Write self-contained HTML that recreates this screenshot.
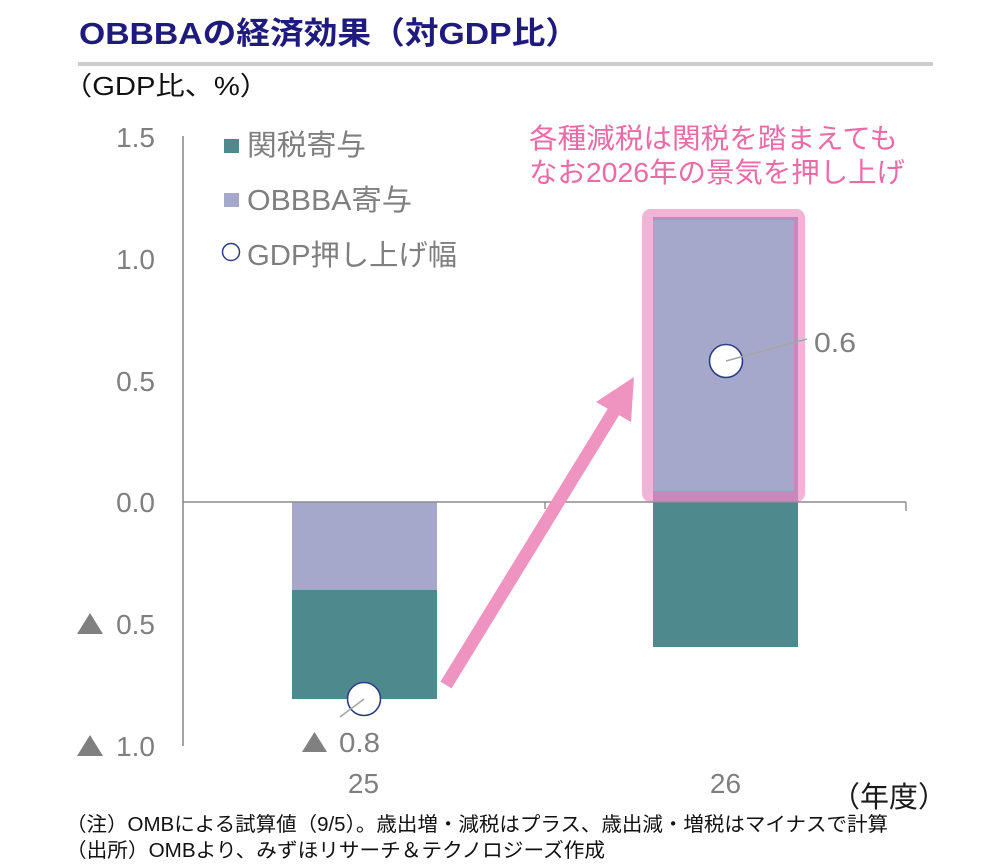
<!DOCTYPE html>
<html>
<head>
<meta charset="utf-8">
<style>
html,body{margin:0;padding:0;background:#fff;}
svg{display:block;}
text{font-family:"Liberation Sans","Noto Sans CJK JP",sans-serif;}
</style>
</head>
<body>
<svg width="1000" height="866" viewBox="0 0 1000 866" xmlns="http://www.w3.org/2000/svg">
  <rect x="0" y="0" width="1000" height="866" fill="#ffffff"/>

  <!-- Title -->
  <text x="79" y="44" font-size="31" font-weight="bold" fill="#1f1a7d" textLength="500" lengthAdjust="spacingAndGlyphs">OBBBAの経済効果（対GDP比）</text>
  <rect x="78" y="62" width="855" height="4" fill="#cdcdcd"/>

  <!-- Subtitle -->
  <text x="63" y="95" font-size="26" fill="#111" textLength="206" lengthAdjust="spacingAndGlyphs">（GDP比、%）</text>

  <!-- Y axis labels -->
  <g font-size="28" fill="#7f7f7f" text-anchor="end">
    <text x="155" y="147">1.5</text>
    <text x="155" y="269">1.0</text>
    <text x="155" y="391">0.5</text>
    <text x="155" y="512">0.0</text>
    <text x="155" y="634">0.5</text>
    <text x="155" y="756">1.0</text>
  </g>
  <polygon points="77,634 103,634 90,613" fill="#808080"/>
  <polygon points="77,756 103,756 90,735" fill="#808080"/>

  <!-- Bars -->
  <rect x="292" y="502" width="145" height="88" fill="#a5a8cb"/>
  <rect x="292" y="590" width="145" height="109" fill="#4e898e"/>
  <rect x="653" y="217" width="145" height="285" fill="#a5a8cb"/>
  <rect x="653" y="502" width="145" height="145" fill="#4e898e"/>

  <!-- Axes -->
  <line x1="183" y1="136" x2="183" y2="746" stroke="#8c8c8c" stroke-width="1.6"/>
  <line x1="183" y1="502" x2="906" y2="502" stroke="#8c8c8c" stroke-width="1.6"/>
  <line x1="545" y1="502" x2="545" y2="509" stroke="#8c8c8c" stroke-width="1.4"/>
  <line x1="906" y1="502" x2="906" y2="511" stroke="#8c8c8c" stroke-width="1.4"/>

  <!-- Highlight box -->
  <rect x="647.5" y="214.5" width="152" height="282" rx="3" ry="3" fill="none" stroke="rgba(229,105,173,0.5)" stroke-width="11"/>

  <!-- Arrow -->
  <line x1="446" y1="685" x2="614" y2="411" stroke="#ef93c0" stroke-width="13"/>
  <polygon points="634,377 596,402 631,422" fill="#ef93c0"/>

  <!-- GDP markers -->
  <circle cx="364" cy="699" r="16.5" fill="#ffffff" stroke="#2b3d84" stroke-width="1.6"/>
  <line x1="364" y1="699" x2="340" y2="717" stroke="#a6a6a6" stroke-width="1.6"/>
  <circle cx="726" cy="361" r="16.5" fill="#ffffff" stroke="#2b3d84" stroke-width="1.6"/>
  <line x1="726" y1="361" x2="807" y2="339" stroke="#a6a6a6" stroke-width="1.6"/>

  <!-- Data labels -->
  <text x="814" y="352" font-size="28" fill="#7f7f7f" textLength="42" lengthAdjust="spacingAndGlyphs">0.6</text>
  <polygon points="302,752 327,752 314.5,732" fill="#808080"/>
  <text x="339" y="752" font-size="28" fill="#7f7f7f" textLength="41" lengthAdjust="spacingAndGlyphs">0.8</text>

  <!-- X labels -->
  <text x="363.5" y="793" font-size="28" fill="#7f7f7f" text-anchor="middle">25</text>
  <text x="725.5" y="793" font-size="28" fill="#7f7f7f" text-anchor="middle">26</text>
  <text x="831" y="807" font-size="29" fill="#1a1a1a" textLength="116" lengthAdjust="spacingAndGlyphs">（年度）</text>

  <!-- Legend -->
  <rect x="224" y="139" width="15" height="14" fill="#4e898e"/>
  <text x="247" y="155" font-size="29" fill="#7f7f7f" textLength="119" lengthAdjust="spacingAndGlyphs">関税寄与</text>
  <rect x="224" y="193" width="15" height="14" fill="#a5a8cb"/>
  <text x="247" y="210" font-size="29" fill="#7f7f7f" textLength="165" lengthAdjust="spacingAndGlyphs">OBBBA寄与</text>
  <circle cx="231" cy="252" r="8.5" fill="#ffffff" stroke="#2b3d84" stroke-width="1.5"/>
  <text x="247" y="265" font-size="29" fill="#7f7f7f" textLength="210" lengthAdjust="spacingAndGlyphs">GDP押し上げ幅</text>

  <!-- Annotation -->
  <text x="529" y="148" font-size="28" fill="#ec6ba6" textLength="369" lengthAdjust="spacingAndGlyphs">各種減税は関税を踏まえても</text>
  <text x="529" y="182" font-size="28" fill="#ec6ba6" textLength="376" lengthAdjust="spacingAndGlyphs">なお2026年の景気を押し上げ</text>

  <!-- Footnotes -->
  <text x="66" y="831" font-size="20" fill="#111" textLength="822" lengthAdjust="spacingAndGlyphs">（注）OMBによる試算値（9/5）。歳出増・減税はプラス、歳出減・増税はマイナスで計算</text>
  <text x="66" y="857" font-size="20" fill="#111" textLength="539" lengthAdjust="spacingAndGlyphs">（出所）OMBより、みずほリサーチ＆テクノロジーズ作成</text>
</svg>
</body>
</html>
